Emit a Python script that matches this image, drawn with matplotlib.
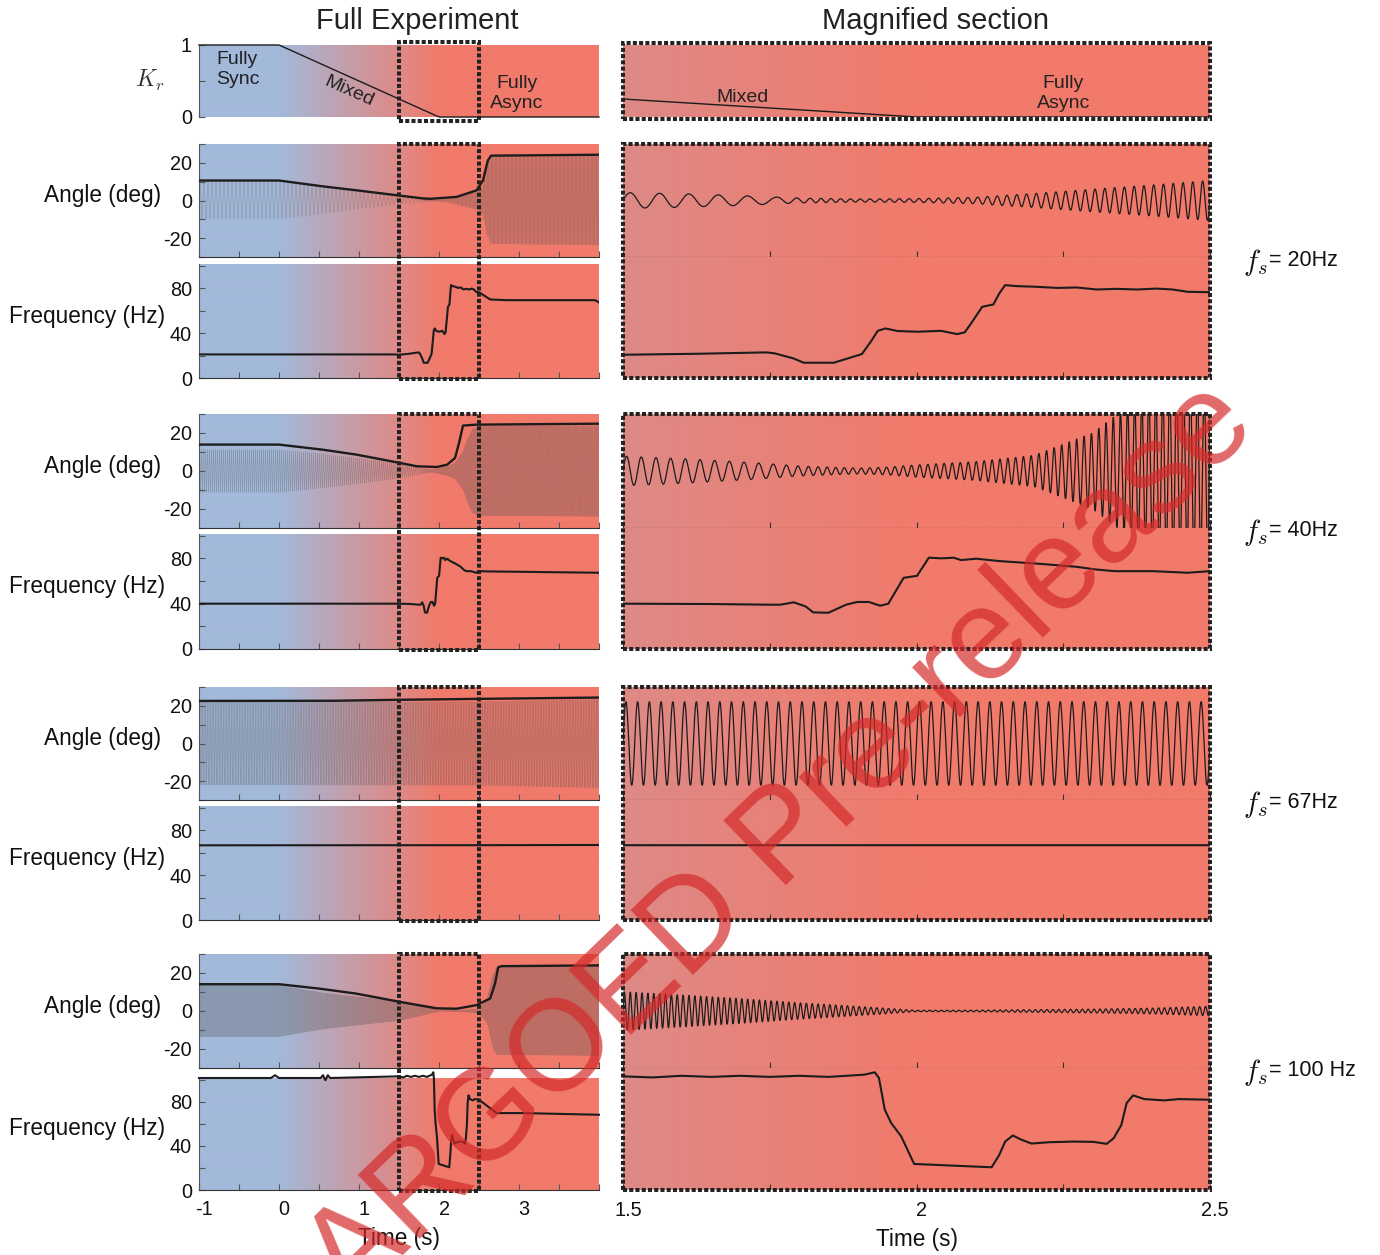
import numpy as np
import matplotlib.pyplot as plt
from matplotlib.patches import Rectangle
from matplotlib.transforms import blended_transform_factory, ScaledTranslation

plt.rcParams['font.family'] = ['Liberation Sans', 'DejaVu Sans']
plt.rcParams['mathtext.fontset'] = 'cm'
plt.rcParams['axes.unicode_minus'] = False

# ---------------- data ----------------
# coupling ratio Kr over the experiment
kr_time = [-1.0, 0.0, 2.0, 4.0]
kr_value = [1.0, 1.0, 0.0, 0.0]

case_labels = ['= 20Hz', '= 40Hz', '= 67Hz', '= 100 Hz']

# fs = 20 Hz
f20_freq_t = [-1.0, 1.43, 1.5, 1.629, 1.744, 1.758, 1.79, 1.808, 1.859, 1.907, 1.924, 1.934,
              1.947, 1.968, 2.002, 2.042, 2.069, 2.082, 2.093, 2.112, 2.131, 2.141, 2.151,
              2.171, 2.205, 2.24, 2.273, 2.307, 2.341, 2.375, 2.41, 2.436, 2.463, 2.5, 2.64,
              2.85, 3.47, 3.95, 4.0]
f20_freq = [21.0, 21.0, 20.7, 21.6, 22.8, 22.0, 17.5, 13.6, 13.6, 21.3, 33.8, 42.0,
            44.1, 41.8, 41.2, 42.0, 39.1, 40.6, 48.6, 63.4, 65.5, 75.3, 82.7,
            81.8, 81.2, 80.2, 80.6, 78.8, 79.4, 78.8, 79.6, 78.8, 76.7, 76.4, 69.9,
            69.3, 69.3, 69.3, 67.3]
f20_amp_t = [-1.0, 0.0, 0.5, 1.0, 1.5, 1.6, 1.7, 1.8, 1.9, 2.0, 2.1, 2.2, 2.3, 2.4, 2.5,
             2.55, 2.6, 2.65, 4.0]
f20_amp = [9.8, 9.8, 7.3, 4.5, 2.1, 1.8, 1.3, 0.65, 0.4, 0.5, 0.85, 1.85, 3.0, 4.1, 5.3,
           7.5, 18.5, 23.0, 23.6]
f20_peak_t = [-1.0, 0.0, 0.55, 0.97, 1.47, 1.8, 1.89, 2.22, 2.47, 2.55, 2.61, 2.65, 4.0]
f20_peak = [10.6, 10.6, 7.5, 5.4, 2.8, 1.1, 0.9, 1.9, 5.4, 10.6, 21.2, 23.8, 24.3]
f20_rate_t = [-1.0, 1.76, 1.84, 4.0]
f20_rate = [20.0, 20.0, 60.0, 60.0]

# fs = 40 Hz
f40_freq_t = [-1.0, 1.5, 1.65, 1.749, 1.768, 1.791, 1.811, 1.824, 1.85, 1.88, 1.899, 1.919,
              1.938, 1.952, 1.978, 2.001, 2.021, 2.043, 2.063, 2.076, 2.102, 2.141, 2.207,
              2.272, 2.305, 2.338, 2.403, 2.462, 2.5, 2.6, 4.0]
f40_freq = [40.0, 40.0, 39.7, 39.1, 39.1, 41.2, 37.6, 32.3, 32.0, 39.1, 41.5, 41.5,
            38.2, 40.0, 62.8, 64.6, 80.6, 80.0, 80.6, 78.5, 79.7, 77.6, 75.3,
            72.6, 70.2, 68.7, 68.7, 67.3, 68.7, 68.5, 67.3]
f40_amp_t = [-1.0, 0.0, 0.55, 0.97, 1.5, 1.6, 1.7, 1.75, 1.8, 1.9, 1.95, 2.0, 2.1, 2.2,
             2.3, 2.36, 2.42, 2.5, 4.0]
f40_amp = [11.2, 11.2, 8.9, 6.8, 3.9, 3.25, 2.4, 1.9, 1.3, 0.75, 1.0, 1.6, 2.45, 4.1,
           10.0, 17.0, 22.0, 23.5, 23.9]
f40_peak_t = [-1.0, 0.0, 0.55, 0.97, 1.47, 1.72, 1.97, 2.1, 2.2, 2.25, 2.3, 2.47, 4.0]
f40_peak = [13.9, 13.9, 11.2, 8.6, 4.6, 2.5, 2.1, 3.3, 6.8, 14.7, 23.9, 24.4, 24.9]
f40_rate_t = [-1.0, 1.75, 1.85, 2.2, 2.4, 2.5, 2.7, 4.0]
f40_rate = [40.0, 40.0, 68.0, 76.0, 84.0, 86.0, 70.0, 68.0]

# fs = 67 Hz
f67_freq_t = [-1.0, 1.5, 2.5, 4.0]
f67_freq = [66.5, 66.6, 66.6, 66.8]
f67_amp_t = [-1.0, 2.5, 4.0]
f67_amp = [22.0, 22.2, 23.5]
f67_peak_t = [-1.0, 0.7, 1.5, 2.5, 4.0]
f67_peak = [22.6, 22.7, 23.2, 23.7, 24.4]
f67_rate_t = [-1.0, 4.0]
f67_rate = [50.0, 50.0]

# fs = 100 Hz
f100_freq_t = [-1.0, -0.1, -0.05, 0.0, 0.52, 0.55, 0.58, 0.61, 0.64, 1.5, 1.55, 1.6, 1.65,
               1.7, 1.75, 1.8, 1.85, 1.911, 1.929, 1.936, 1.946, 1.957, 1.974, 1.996, 2.128,
               2.141, 2.151, 2.164, 2.179, 2.196, 2.226, 2.268, 2.302, 2.324, 2.336, 2.349,
               2.358, 2.369, 2.388, 2.422, 2.447, 2.5, 2.72, 3.05, 4.0]
f100_freq = [101.5, 101.5, 104.0, 101.5, 101.5, 104.0, 99.5, 104.0, 101.5, 103.0, 102.0, 103.5, 102.5,
             103.5, 102.5, 103.5, 102.5, 104.5, 106.7, 101.5, 72.7, 60.6, 48.5, 23.6, 20.6,
             31.8, 43.9, 49.4, 45.5, 42.1, 43.3, 43.9, 43.6, 41.8, 47.0, 59.0,
             78.8, 85.8, 82.4, 81.2, 82.4, 81.8, 69.7, 69.7, 68.2]
f100_amp_t = [-1.0, 0.0, 0.55, 1.0, 1.5, 1.6, 1.7, 1.8, 1.9, 1.95, 2.0, 2.1, 2.2, 2.3, 2.4,
              2.5, 2.6, 2.68, 2.72, 4.0]
f100_amp = [13.4, 13.4, 9.5, 7.3, 5.05, 4.2, 3.25, 2.15, 1.2, 0.7, 0.18, 0.22, 0.35, 0.5, 0.75,
            1.25, 6.0, 20.0, 23.0, 23.4]
f100_peak_t = [-1.0, 0.0, 0.5, 0.96, 1.5, 1.97, 2.22, 2.47, 2.64, 2.7, 2.74, 2.78, 4.0]
f100_peak = [14.1, 14.1, 11.8, 9.2, 4.9, 1.4, 1.2, 3.1, 6.6, 14.4, 23.0, 23.6, 24.0]
f100_rate_t = [-1.0, 4.0]
f100_rate = [100.0, 100.0]

# y-range of the magnified angle panels
zoom_angle_lim = [15, 15, 30, 15]

cases = [
    (f20_freq_t, f20_freq, f20_amp_t, f20_amp, f20_peak_t, f20_peak, f20_rate_t, f20_rate),
    (f40_freq_t, f40_freq, f40_amp_t, f40_amp, f40_peak_t, f40_peak, f40_rate_t, f40_rate),
    (f67_freq_t, f67_freq, f67_amp_t, f67_amp, f67_peak_t, f67_peak, f67_rate_t, f67_rate),
    (f100_freq_t, f100_freq, f100_amp_t, f100_amp, f100_peak_t, f100_peak, f100_rate_t, f100_rate),
]

# ---------------- layout ----------------
W, H = 1380, 1255
fig = plt.figure(figsize=(W / 100, H / 100), dpi=100)

sync_rgb = np.array([163, 185, 218]) / 255
async_rgb = np.array([241, 122, 107]) / 255
ink = '#1c1c1c'
spine_c = '#555555'
shift = ScaledTranslation(5 / 100, 0, fig.dpi_scale_trans)


def box(x0, y0, x1, y1):
    return [x0 / W, 1 - y1 / H, (x1 - x0) / W, (y1 - y0) / H]


def paint(ax, t0, t1, y0, y1):
    tt = np.linspace(t0, t1, 500)
    k = np.interp(tt, kr_time, kr_value)[:, None]
    rgb = k * sync_rgb + (1 - k) * async_rgb
    ax.imshow(rgb[None], extent=[t0, t1, y0, y1], aspect='auto', zorder=0,
              interpolation='bilinear')
    ax.set_xlim(t0, t1)
    ax.set_ylim(y0, y1)


def style_left(ax, bottom=True):
    for s in ['top', 'right']:
        ax.spines[s].set_visible(False)
    ax.spines['left'].set_color(spine_c)
    ax.spines['bottom'].set_color('#333333')
    ax.spines['bottom'].set_visible(bottom)
    ax.tick_params(direction='in', length=4, width=0.8, color=spine_c,
                   labelsize=14.3, pad=5, labelcolor='#111111')


def style_right(ax):
    for s in ['top', 'right', 'left', 'bottom']:
        ax.spines[s].set_visible(False)
    ax.set_yticks([])
    ax.tick_params(direction='in', length=4, width=0.8, color='#333333',
                   labelsize=14.3, pad=8, labelcolor='#111111')


def nudge_xlabels(ax):
    for lab in ax.get_xticklabels():
        lab.set_transform(lab.get_transform() + shift)


dot_style = dict(fill=False, ec='#222222', lw=2.9, ls=(0, (1.0, 0.55)), zorder=6)

XL, XR = (199, 599), (623, 1210)
left_t = (-1.0, 4.0)
right_t = (1.5, 2.5)
half_ticks = np.arange(-1, 4.01, 0.5)
zoom_ticks = [1.5, 1.75, 2.0, 2.25, 2.5]

# ---- Kr panels ----
ax = fig.add_axes(box(XL[0], 45, XL[1], 117))
paint(ax, *left_t, 0, 1)
ax.plot(kr_time, kr_value, color=ink, lw=1.0, clip_on=False, zorder=3)
style_left(ax, bottom=False)
ax.set_xticks([])
ax.set_yticks([0, 0.5, 1], ['0', '', '1'])
ax.text(-0.52, 0.66, 'Fully\nSync', ha='center', va='center', fontsize=14, color='#222222')
ax.text(0.875, 0.36, 'Mixed', ha='center', va='center', fontsize=14, rotation=-24,
        rotation_mode='anchor', color='#222222')
ax.text(2.975, 0.33, 'Fully\nAsync', ha='center', va='center', fontsize=14, color='#222222')
tr = blended_transform_factory(ax.transData, fig.transFigure)
fig.add_artist(Rectangle((1.5, 1 - 121 / H), 1.0, 79 / H, transform=tr, **dot_style))
fig.text(150 / W, 1 - 80 / H, r'$K_r$', fontsize=17, ha='center', va='center', color='#333333')

ax = fig.add_axes(box(XR[0], 45, XR[1], 117))
paint(ax, *right_t, 0, 1)
ax.plot(kr_time, kr_value, color=ink, lw=1.0, zorder=3)
style_right(ax)
ax.set_xticks([])
ax.text(1.704, 0.27, 'Mixed', ha='center', va='center', fontsize=14, color='#222222')
ax.text(2.25, 0.33, 'Fully\nAsync', ha='center', va='center', fontsize=14, color='#222222')
tr = blended_transform_factory(ax.transData, fig.transFigure)
fig.add_artist(Rectangle((1.5, 1 - 119 / H), 1.0, 76 / H, transform=tr, **dot_style))

fig.text(417 / W, 1 - 21 / H, 'Full Experiment', fontsize=21, ha='center', va='center', color='#222222')
fig.text(935 / W, 1 - 21 / H, 'Magnified section', fontsize=21, ha='center', va='center', color='#222222')

# ---- angle / frequency groups ----
rows = [(144, 257, 264, 378), (414, 528, 534, 649), (687, 800, 806, 920), (954, 1068, 1078, 1190)]
freq_top = 101.5
t = np.linspace(-1.0, 4.0, 50001)
dt = t[1] - t[0]

for i, (row, data) in enumerate(zip(rows, cases)):
    at, ab, ft, fb = row
    fr_t, fr_v, am_t, am_v, pk_t, pk_v, rt_t, rt_v = data
    last = i == len(rows) - 1

    amp = np.interp(t, am_t, am_v)
    rate = np.interp(t, rt_t, rt_v)
    phase = 2 * np.pi * np.cumsum(rate) * dt
    angle = amp * np.sin(phase)

    # full experiment: angle
    ax = fig.add_axes(box(XL[0], at, XL[1], ab))
    paint(ax, *left_t, -30, 30)
    ax.plot(t, angle, color='#555555', lw=0.45, alpha=0.33, zorder=2)
    ax.plot(pk_t, pk_v, color=ink, lw=1.7, zorder=3)
    style_left(ax)
    ax.set_xticks(half_ticks, [''] * len(half_ticks))
    ax.set_yticks(np.arange(-30, 31, 10), ['', '-20', '', '0', '', '20', ''])
    tr = blended_transform_factory(ax.transData, fig.transFigure)
    fig.add_artist(Rectangle((1.5, 1 - (fb + 0.5) / H), 1.0, (fb - at + 1) / H,
                             transform=tr, **dot_style))
    fig.text(161 / W, 1 - ((at + ab) / 2 - 5) / H, 'Angle (deg)', fontsize=16.3,
             ha='right', va='center', color='#111111')

    # full experiment: frequency
    ax = fig.add_axes(box(XL[0], ft, XL[1], fb))
    paint(ax, *left_t, 0, freq_top)
    ax.plot(fr_t, fr_v, color=ink, lw=1.5, zorder=3, clip_on=not last)
    style_left(ax)
    if last:
        ax.set_xticks(half_ticks, ['-1', '', '0', '', '1', '', '2', '', '3', '', ''])
        ax.set_xlabel('Time (s)', fontsize=16.3, labelpad=6, color='#111111')
        ax.tick_params(axis='x', pad=7)
        nudge_xlabels(ax)
    else:
        ax.set_xticks(half_ticks, [''] * len(half_ticks))
    ax.set_yticks(np.arange(0, 101, 20), ['0', '', '40', '', '80', ''])
    fig.text(165 / W, 1 - ((ft + fb) / 2 - 5) / H, 'Frequency (Hz)', fontsize=16.3,
             ha='right', va='center', color='#111111')

    # magnified section: angle
    lim = zoom_angle_lim[i]
    sel = (t >= 1.5) & (t <= 2.5)
    ax = fig.add_axes(box(XR[0], at, XR[1], ab))
    paint(ax, *right_t, -lim, lim)
    ax.plot(t[sel], angle[sel], color=ink, lw=0.9, zorder=3)
    style_right(ax)
    ax.spines['bottom'].set_visible(True)
    ax.spines['bottom'].set_color('#333333')
    ax.set_xticks(zoom_ticks, [''] * 5)

    # magnified section: frequency (same Hz per pixel as the left column)
    ax = fig.add_axes(box(XR[0], ab, XR[1], fb))
    paint(ax, *right_t, 0, freq_top * (fb - ab) / (fb - ft))
    ax.plot(fr_t, fr_v, color=ink, lw=1.5, zorder=3)
    style_right(ax)
    if last:
        ax.set_xticks(zoom_ticks, ['1.5', '', '2', '', '2.5'])
        ax.set_xlabel('Time (s)', fontsize=16.3, labelpad=6, color='#111111')
        nudge_xlabels(ax)
    else:
        ax.set_xticks(zoom_ticks, [''] * 5)
    tr = blended_transform_factory(ax.transData, fig.transFigure)
    fig.add_artist(Rectangle((1.5, 1 - fb / H), 1.0, (fb - at) / H, transform=tr, **dot_style))

    fig.text(1243 / W, 1 - (ab + 5) / H, r'$f_s$', fontsize=21, ha='left',
             va='center', color='#111111')
    fig.text(1269 / W, 1 - (ab + 3) / H, case_labels[i], fontsize=15.5, ha='left',
             va='center', color='#111111')

# release watermark
fig.text(681 / W, 1 - 940 / H, 'EMBARGOED Pre-release', fontsize=93, rotation=44,
         rotation_mode='anchor', ha='center', va='center', color='#d42a2a', alpha=0.7,
         zorder=10)

fig.savefig('out.png', dpi=100)
